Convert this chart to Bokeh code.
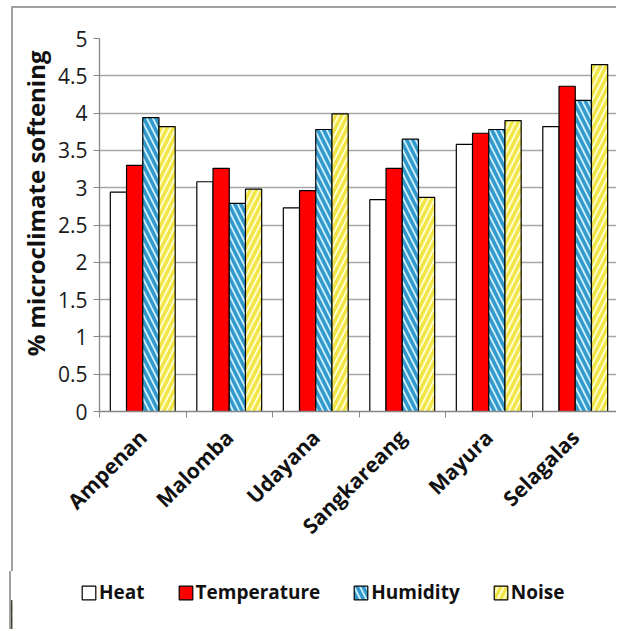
import math
from bokeh.plotting import figure
from bokeh.models import (ColumnDataSource, FixedTicker, Range1d, Legend, LegendItem,
                          Title, NumeralTickFormatter)
from bokeh.transform import dodge
from bokeh.embed import file_html
from bokeh.resources import INLINE

sites = ["Ampenan", "Malomba", "Udayana", "Sangkareang", "Mayura", "Selagalas"]
heat = [2.94, 3.08, 2.73, 2.84, 3.58, 3.82]
temperature = [3.30, 3.26, 2.96, 3.26, 3.73, 4.36]
humidity = [3.94, 2.79, 3.78, 3.65, 3.78, 4.17]
noise = [3.82, 2.98, 3.99, 2.87, 3.90, 4.65]
series_names = ["Heat", "Temperature", "Humidity", "Noise"]
y_ticks = [0, 0.5, 1, 1.5, 2, 2.5, 3, 3.5, 4, 4.5, 5]
y_title = "% microclimate softening"

n = len(sites)
centers = [i + 0.5 for i in range(n)]
bounds = [float(i) for i in range(n + 1)]
src = ColumnDataSource(dict(x=centers, Heat=heat, Temperature=temperature,
                            Humidity=humidity, Noise=noise))

FONT = "Open Sans"
BORDER = "2px solid #a0a0a0"
p = figure(width=605, height=565, x_range=Range1d(0, n), y_range=Range1d(0, 5),
           output_backend="svg", toolbar_location=None,
           min_border_left=84, min_border_right=0, min_border_top=30, min_border_bottom=162,
           styles={"border-left": BORDER, "border-top": BORDER,
                   "margin-left": "11px", "margin-top": "6px"})
p.outline_line_color = None
p.background_fill_color = "white"
p.border_fill_color = "white"

bw = 0.1875
styles = {
    "Heat": dict(fill_color="white"),
    "Temperature": dict(fill_color="#ff0000"),
    "Humidity": dict(fill_color="#ccf0fb", hatch_pattern="\\", hatch_color="#3399cc",
                     hatch_scale=12, hatch_weight=3.5),
    "Noise": dict(fill_color="#ffffd2", hatch_pattern="/", hatch_color="#f2e54a",
                  hatch_scale=12, hatch_weight=3.5),
}
for k, name in enumerate(series_names):
    off = (k - 1.5) * bw
    p.vbar(x=dodge("x", off), top=name, width=bw, source=src,
           line_color="black", line_width=1.2, **styles[name])

# axes
p.yaxis.ticker = FixedTicker(ticks=y_ticks)
p.yaxis.formatter = NumeralTickFormatter(format="0.[0]")
p.yaxis.axis_line_color = "#868686"
p.yaxis.axis_line_width = 1.3
p.yaxis.major_tick_line_color = "#868686"
p.yaxis.major_tick_in = 0
p.yaxis.major_tick_out = 6
p.yaxis.minor_tick_line_color = None
p.yaxis.major_label_text_font = FONT
p.yaxis.major_label_text_font_size = "21px"
p.yaxis.major_label_text_color = "#1a1a1a"
p.yaxis.major_label_standoff = 6

p.xaxis.ticker = FixedTicker(ticks=centers, minor_ticks=bounds)
p.xaxis.major_label_overrides = {c: s for c, s in zip(centers, sites)}
p.xaxis.major_tick_line_color = None
p.xaxis.minor_tick_line_color = "#868686"
p.xaxis.minor_tick_in = 0
p.xaxis.minor_tick_out = 6
p.xaxis.axis_line_color = "#868686"
p.xaxis.axis_line_width = 1.3
p.xaxis.major_label_orientation = math.pi / 4
p.xaxis.major_label_text_font = FONT
p.xaxis.major_label_text_font_style = "bold"
p.xaxis.major_label_text_font_size = "21px"
p.xaxis.major_label_text_color = "#111111"
p.xaxis.major_label_standoff = 16

p.xgrid.visible = False
p.ygrid.ticker = FixedTicker(ticks=y_ticks)
p.ygrid.grid_line_color = "#a6a6a6"
p.ygrid.grid_line_width = 1.5

p.add_layout(Title(text=y_title, align="right", offset=12, standoff=6,
                   text_font=FONT, text_font_style="bold", text_font_size="24px",
                   text_color="#111111"), "left")

# legend panel (separate root so the legend is not clipped nor frame-aligned)
lg = figure(width=607, height=58, x_range=Range1d(0, 1), y_range=Range1d(0, 1),
            output_backend="svg", toolbar_location=None,
            x_axis_location=None, y_axis_location=None,
            min_border_left=0, min_border_right=0, min_border_top=0, min_border_bottom=0,
            styles={"border-left": BORDER, "margin-left": "9px"})
lg.grid.visible = False
lg.outline_line_color = None
items = []
for name in series_names:
    r = lg.vbar(x=[-10], top=[0.5], width=0.1, line_color="black", line_width=1.2,
                **styles[name])
    items.append(LegendItem(label=name, renderers=[r]))
legend = Legend(items=items, orientation="horizontal", location=(69, 24),
                label_text_font=FONT, label_text_font_style="bold",
                label_text_font_size="19px", label_text_color="#111111",
                glyph_width=17, glyph_height=17, label_standoff=2, spacing=32,
                padding=0, margin=0, border_line_color=None, background_fill_alpha=0)
lg.add_layout(legend)

open("out.html", "w").write(file_html([p, lg], INLINE))
